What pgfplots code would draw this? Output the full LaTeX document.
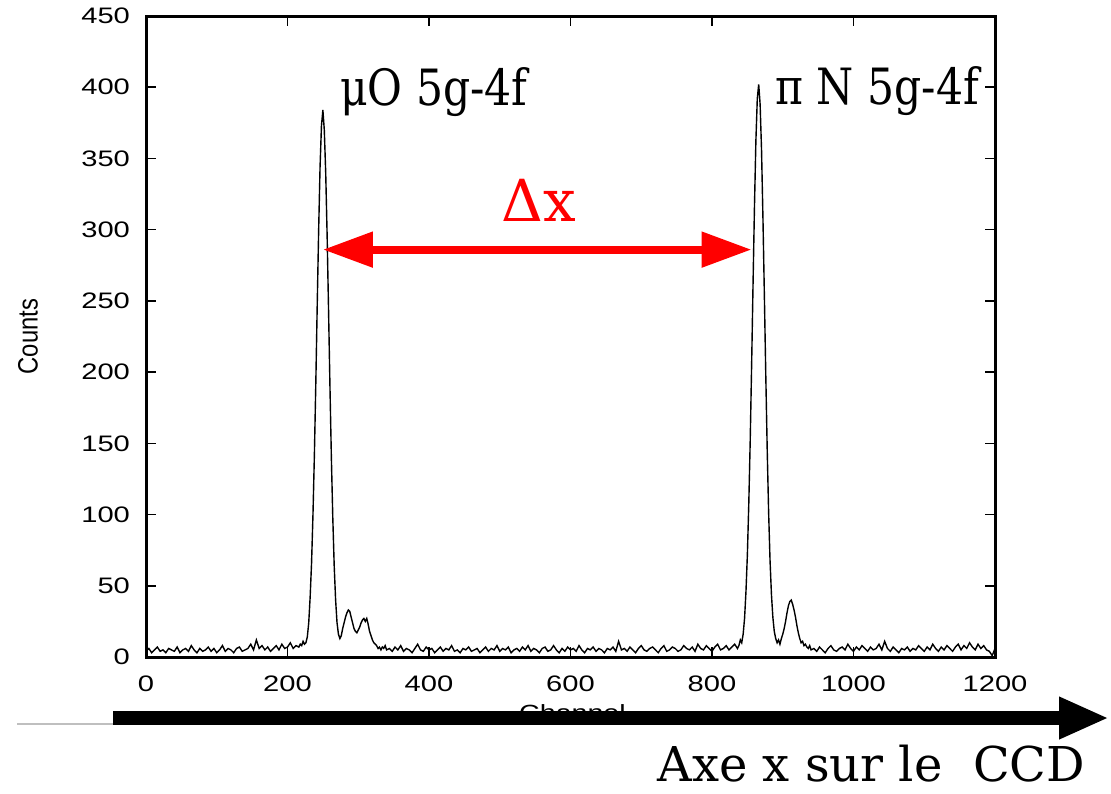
\documentclass[border=0pt]{standalone}
\usepackage{fontspec}
\usepackage{pgfplots}
\usepackage{pgfplotstable}
\pgfplotsset{compat=1.18}
\usetikzlibrary{arrows.meta}
\setmainfont{DejaVu Serif}
\newfontfamily\ticksans[FakeStretch=1.3]{Liberation Sans}
\newfontfamily\countsfont[FakeStretch=0.85]{Liberation Sans}
\newfontfamily\annot[FakeStretch=0.85]{DejaVu Serif}
\newfontfamily\annotw{DejaVu Serif}

\pgfplotstableread{
ch cnt
0 4
4 6
8 3
12 5
16 7
20 4
24 5
28 3
32 6
36 5
40 4
44 7
48 3
52 5
56 6
60 4
64 8
68 5
72 3
76 6
80 4
84 5
88 7
92 4
96 6
100 3
104 5
108 8
112 4
116 6
120 5
124 3
128 6
132 7
136 4
140 5
144 6
148 9
152 5
156 12
160 6
164 8
168 5
172 7
176 4
180 6
184 8
188 5
192 9
196 6
200 7
204 10
208 6
212 8
216 7
218 9
220 8
222 11
224 9
226 10
228 14
230 24
232 42
234 66
236 100
238 142
240 192
242 247
244 299
246 344
248 373
250 384
252 370
254 340
256 296
258 244
260 190
262 140
264 98
266 64
268 40
270 24
272 16
274 13
276 15
278 20
280 24
282 28
284 31
286 33
288 32
290 28
292 24
294 20
296 18
298 17
300 19
302 21
304 24
306 26
308 27
310 25
312 27
314 23
316 18
318 15
320 12
322 10
324 9
326 8
328 6
330 7
332 5
334 7
336 6
338 8
340 5
344 6
348 4
352 7
356 5
360 8
364 4
368 6
372 5
376 3
380 6
384 9
388 5
392 4
396 7
400 5
404 6
408 3
412 5
416 7
420 4
424 6
428 5
432 8
436 4
440 5
444 3
448 6
452 5
456 7
460 4
464 5
468 6
472 3
476 5
480 7
484 4
488 6
492 5
496 8
500 4
504 6
508 5
512 7
516 3
520 5
524 6
528 4
532 7
536 5
540 8
544 4
548 6
552 5
556 3
560 6
564 7
568 4
572 5
576 8
580 5
584 3
588 6
592 4
596 7
600 5
604 6
608 4
612 8
616 5
620 3
624 6
628 5
632 7
636 4
640 6
644 5
648 3
652 6
656 5
660 7
664 4
668 11
672 5
676 6
680 4
684 7
688 5
692 3
696 6
700 8
704 5
708 4
712 6
716 7
720 5
724 3
728 6
732 8
736 4
740 5
744 7
748 6
752 4
756 5
760 8
764 6
768 5
772 7
776 4
780 9
784 6
788 5
792 8
796 6
800 4
804 7
808 9
812 5
816 6
820 8
824 5
828 7
832 9
836 6
838 8
840 12
842 10
844 16
846 27
848 46
850 72
852 108
854 152
856 205
858 262
860 316
862 362
864 392
866 402
868 388
870 356
872 308
874 254
876 198
878 146
880 102
882 68
884 44
886 28
888 18
890 13
892 10
894 12
896 9
898 13
900 16
902 20
904 25
906 31
908 36
910 39
912 40
914 37
916 33
918 28
920 22
922 17
924 13
926 10
928 11
930 8
932 9
934 7
936 6
938 8
940 5
944 6
948 4
952 7
956 5
960 3
964 6
968 8
972 5
976 4
980 6
984 7
988 5
992 9
996 6
1000 4
1004 7
1008 5
1012 8
1016 6
1020 4
1024 7
1028 5
1032 6
1036 9
1040 5
1044 11
1048 6
1052 4
1056 7
1060 5
1064 3
1068 6
1072 5
1076 7
1080 4
1084 6
1088 5
1092 8
1096 6
1100 4
1104 7
1108 5
1112 9
1116 6
1120 4
1124 7
1128 5
1132 8
1136 6
1140 4
1144 7
1148 9
1152 5
1156 8
1160 6
1164 10
1168 7
1172 5
1176 9
1180 6
1184 8
1188 5
1192 4
1196 1
1200 6
}\spectrum

\begin{document}
\begin{tikzpicture}
\begin{scope}[x=0.5pt,y=-0.5pt]
\draw[black!25, line width=1pt] (17,724) -- (1025,724);
\end{scope}
\begin{axis}[
  at={(73pt,-328.5pt)}, anchor=south west,
  scale only axis, width=424.5pt, height=320.5pt,
  xmin=0, xmax=1200, ymin=0, ymax=450,
  xtick={0,200,...,1200}, ytick={0,50,...,450},
  tick align=inside, major tick length=5pt,
  axis line style={line width=1.5pt},
  every tick/.style={black, line width=0.8pt},
  /pgf/number format/assume math mode=true,
  /pgf/number format/1000 sep={},
  ticklabel style={font=\ticksans\fontsize{11.2}{12}\selectfont},
  yticklabel style={xshift=-4.5pt},
  xticklabel style={yshift=-6pt},
  xlabel={Channel}, ylabel={Counts},
  xlabel style={font=\ticksans\fontsize{11}{13}\selectfont, at={(axis description cs:0.5,0)}, anchor=center, yshift=-28pt, xshift=1pt},
  ylabel style={font=\countsfont\fontsize{14}{15}\selectfont, at={(axis description cs:0,0.5)}, anchor=center, yshift=59pt},
  clip=false,
]
\addplot[black, line width=0.7pt] table[x=ch, y=cnt] {\spectrum};
\node[anchor=base west, inner sep=0pt, font=\annot\fontsize{25}{30}\selectfont] at (axis cs:274,387) {μO 5g-4f};
\node[anchor=base west, inner sep=0pt, font=\annot\fontsize{25}{30}\selectfont] at (axis cs:889,388) {π N 5g-4f};
\node[anchor=base west, inner sep=0pt, text=red, font=\annotw\fontsize{29}{32}\selectfont] at (axis cs:502,306) {Δx};
\draw[red, line width=4pt, {Triangle[length=25pt,width=17pt]}-{Triangle[length=25pt,width=17pt]}] (axis cs:250,286) -- (axis cs:856,286);
\end{axis}
\begin{scope}[x=0.5pt,y=-0.5pt]
\draw[black, line width=7pt, -{Triangle[length=25pt,width=19.5pt]}] (113,718) -- (1109,718);
\node[anchor=base west, inner sep=0pt, font=\annotw\fontsize{24}{28}\selectfont] at (657,781) {Axe x sur le\ \ CCD};
\end{scope}
\pgfresetboundingbox
\path[use as bounding box] (0,0) rectangle (555.5pt,-396.5pt);
\end{tikzpicture}
\end{document}
